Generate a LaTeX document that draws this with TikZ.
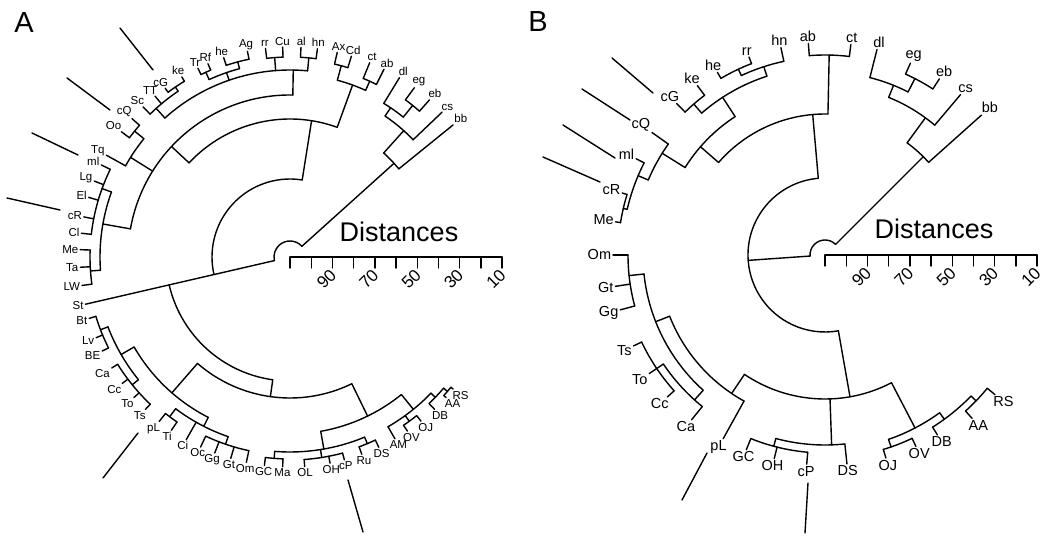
\documentclass[tikz,border=0pt]{standalone}
\usepackage{fontspec}
\setmainfont{Liberation Sans}

\begin{document}
\begin{tikzpicture}[x=1pt, y=1pt,
    tree/.style={line width=1.4pt, line cap=round, line join=round},
    leafA/.style={font=\fontsize{11.5}{11.5}\selectfont, inner sep=1.2pt},
    leafB/.style={font=\fontsize{14.5}{14.5}\selectfont, inner sep=1.2pt},
    ticklab/.style={font=\fontsize{17}{17}\selectfont, rotate=45, inner sep=0pt},
    distlab/.style={font=\fontsize{27}{27}\selectfont},
    panel/.style={font=\fontsize{29}{29}\selectfont}]
    \useasboundingbox (0,0) rectangle (1045,536);

    \node[panel] (labA) at (24,513) {A};
    \node[panel] (labB) at (538,514) {B};

    % panel A
    \begin{scope}[shift={(290,279)}, tree]
        \foreach \s/\e/\rad in {42/193/16,
            39/48/140, 43.6/56/170, 51/58.6/180, 48.4/53.7/195,
            81/193/78, 70/137/138,
            65.6/75/183, 73/77/198, 63.4/67.7/193,
            89/170/162,
            84.6/132/187, 82.5/87/200, 92/96.7/200, 105/114.5/195, 101.7/108.4/202, 113/116/203,
            124/134.4/200, 121/126.5/205,
            141/151/188, 138.8/143.4/200,
            160/184/190, 154/173.5/200, 178/187.8/200,
            193/262/124, 229/296/141,
            210/243/180, 201/219/195, 197/206.6/203, 211.9/226.5/203,
            233/251/190, 231.5/235.6/200, 244.8/258/198,
            280/309/177, 265.5/292.5/195, 263/268/202, 274/285/203, 290/295/202,
            300/316/196, 304/308.6/203, 313.5/319.5/202, 318/321/207}
            \draw (\s:\rad) arc[start angle=\s, end angle=\e, radius=\rad];

        \foreach \ang/\ri/\ro in {42/16/140, 48/140/170, 56/170/180, 51/180/195,
            193/16/78, 81/78/138, 70/138/183, 75/183/198, 65.6/183/193,
            137/138/162, 89/162/187, 84.6/187/200, 94.4/187/200, 109/187/195,
            105/195/202, 114.5/195/203, 132/187/200, 124/200/205,
            148/162/188, 141/188/200, 170/162/190, 160/190/200, 184/190/200,
            193/78/124, 262/124/141, 229/141/180, 210/180/195, 201/195/203, 219/195/203,
            243/180/190, 233/190/200, 251/190/198,
            296/141/177, 280/177/195, 265.5/195/202, 279/195/203, 292.5/195/202,
            309/177/196, 306/196/203, 316/196/202, 319.5/202/207}
            \draw (\ang:\ri) -- (\ang:\ro);

        \foreach \ang/\ri/\t in {39/140/bb, 43.6/170/cs, 48.4/195/eb, 53.7/195/eg, 58.6/180/dl,
            63.4/193/ab, 67.7/193/ct, 73/198/Cd, 77/198/Ax,
            82.5/200/hn, 87/200/al, 92/200/Cu, 96.7/200/rr,
            101.7/202/Ag, 108.4/202/he, 113/203/Rf, 116/203/Tr,
            121/205/ke, 126.5/205/cG, 130/200/TT, 134.4/200/Sc,
            138.8/200/cQ, 143.4/200/Oo, 151/188/Tq,
            154/200/ml, 158.8/200/Lg, 163.5/200/El, 169/200/cR, 173.5/200/Cl,
            178/200/Me, 182.8/200/Ta, 187.8/200/LW, 193/124/St,
            197/203/Bt, 202.6/203/Lv, 206.6/203/BE,
            211.9/203/Ca, 217/203/Cc, 222/203/To, 226.5/203/Ts,
            231.5/200/pL, 235.6/200/Ti, 240.4/190/Ci,
            244.8/198/Oc, 249/198/Gg, 253.6/198/Gt, 258/198/Om,
            263/202/GC, 268/202/Ma, 274/203/OL, 281/203/OH, 285/203/cP, 290/202/Ru, 295/202/DS,
            300/196/AM, 304/203/OV, 308.6/203/OJ, 313.5/202/DB, 318/207/AA, 321/207/RS}
            {\pgfmathtruncatemacro\an{mod(\ang+180,360)}
             \draw (\ang:\ri) -- (\ang:210) node[leafA, anchor=\an, name=A\t] {\t};}

        % distance axis
        \draw (0,0) coordinate (axA) -- (212,0) coordinate (axAend);
        \foreach \i in {0,...,10}
            \draw (\i*21.2,0) -- (\i*21.2,-11);
        \foreach \i/\t in {2/90, 4/70, 6/50, 8/30, 10/10}
            \node[ticklab] (tA\t) at (\i*21.2-6,-22) {\t};
        \node[distlab] (distA) at (109,25) {Distances};
    \end{scope}

    % panel B
    \begin{scope}[shift={(825,281)}, tree]
        \foreach \s/\e/\rad in {45/184/15,
            41.8/53.8/139, 49.8/68/170, 63/75.8/183, 57/66/198,
            95/280/77,
            88.8/139/141, 83/94.5/200,
            123/148/165, 108/131/188, 127/134.4/200, 102/115/198, 111/120.5/205,
            144.7/157/192, 153/167/203, 163/171/207,
            236/297.5/144,
            201.5/241/167, 186/228/182, 180/195/197, 214/231/195, 205.4/222/203,
            255/276/190, 248/265/198,
            289/306/195, 286.7/295.4/203, 302/316/203, 312/320.6/210}
            \draw (\s:\rad) arc[start angle=\s, end angle=\e, radius=\rad];

        \foreach \ang/\ri/\ro in {45/15/139, 53.8/139/170, 68/170/183, 63/183/198,
            184/15/77, 95/77/141, 88.8/141/200, 139/141/165,
            123/165/188, 131/188/200, 108/188/198, 115/198/205,
            148/165/192, 157/192/203, 167/203/207,
            280/77/144, 236/144/167, 201.5/167/182, 186/182/197, 228/182/195, 214/195/203,
            272/144/190, 255/190/198,
            297.5/144/195, 289/195/203, 306/195/203, 316/203/210}
            \draw (\ang:\ri) -- (\ang:\ro);

        \foreach \ang/\ri/\ro/\t in {41.8/139/210/bb, 49.8/170/210/cs, 57/198/210/eb, 66/198/210/eg, 75.8/183/212/dl,
            83/200/212/ct, 94.5/200/212/ab,
            102/198/212/hn, 111/205/212/rr, 120.5/205/212/he,
            127/200/212/ke, 134.4/200/212/cG,
            144.7/192/212/cQ, 153/203/212/ml, 163/207/212/cR, 171/207/212/Me,
            180/197/212/Om, 188.5/197/212/Gt, 195/197/212/Gg,
            205.4/203/212/Ts, 214/203/212/To, 222/203/212/Cc, 231/195/212/Ca,
            241/167/210/pL,
            248/198/210/GC, 256/198/210/OH, 265/198/210/cP, 276/190/210/DS,
            286.7/203/212/OJ, 295.4/203/212/OV, 302/203/212/DB, 312/210/220/AA, 320.6/210/220/RS}
            {\pgfmathtruncatemacro\an{mod(\ang+180,360)}
             \draw (\ang:\ri) -- (\ang:\ro) node[leafB, anchor=\an, name=B\t] {\t};}

        % distance axis
        \draw (0,0) coordinate (axB) -- (212,0) coordinate (axBend);
        \foreach \i in {0,...,10}
            \draw (\i*21.2,0) -- (\i*21.2,-11);
        \foreach \i/\t in {2/90, 4/70, 6/50, 8/30, 10/10}
            \node[ticklab] (tB\t) at (\i*21.2-6,-22) {\t};
        \node[distlab] (distB) at (109,26) {Distances};
    \end{scope}

    % pointer lines
    \begin{scope}[tree]
        \draw (153,466) -- (120,508);
        \draw (110,426) -- (67,458);
        \draw (78,381) -- (32,403);
        \draw (60,326) -- (7,338);
        \draw (138,103) -- (103,58);
        \draw (348,56) -- (363,4);
        \draw (653,443) -- (612,478);
        \draw (630,416) -- (582,447);
        \draw (615,378) -- (563,411);
        \draw (600,354) -- (543,379);
        \draw (707,83) -- (682,36);
        \draw (808,53) -- (805,3);
    \end{scope}
\end{tikzpicture}
\end{document}
